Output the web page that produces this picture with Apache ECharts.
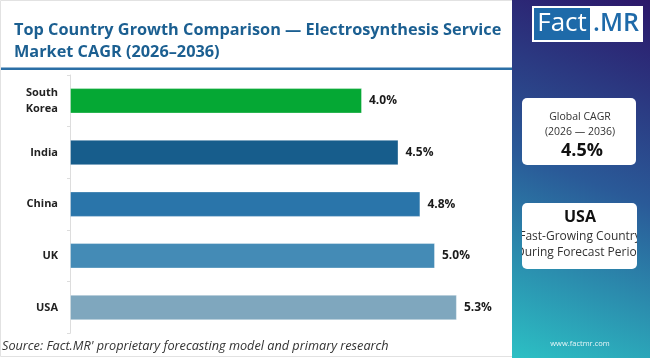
<!DOCTYPE html>
<html>
<head>
<meta charset="utf-8">
<script src="https://cdn.jsdelivr.net/npm/echarts@6/dist/echarts.min.js"></script>
<style>
html,body{margin:0;padding:0;background:#fff;}
#chart{width:650px;height:358px;}
</style>
</head>
<body>
<div id="chart"></div>
<script>
const categories = ['South\nKorea', 'India', 'China', 'UK', 'USA'];
const values = [4.0, 4.5, 4.8, 5.0, 5.3];
const barColors = ['#05a834', '#175d8c', '#2a75aa', '#448bb6', '#7fa7be'];
const titleText = 'Top Country Growth Comparison \u2014 Electrosynthesis Service\nMarket CAGR (2026\u20132036)';
const sourceText = "Source: Fact.MR' proprietary forecasting model and primary research";
const globalCagr = '4.5%';
const fastestCountry = 'USA';

const chart = echarts.init(document.getElementById('chart'), null, {renderer: 'canvas'});
const FONT = '"Open Sans", "Noto Sans", sans-serif';

chart.setOption({
  backgroundColor: '#ffffff',
  animation: false,
  title: {
    text: titleText,
    left: 9, top: 14,
    textStyle: {fontFamily: FONT, fontWeight: 700, fontSize: 16.3, color: '#1b5f91', lineHeight: 22}
  },
  grid: {left: 70, right: 142, top: 75, bottom: 24.7, containLabel: false},
  xAxis: {
    type: 'value', min: 0, max: 6, show: false
  },
  yAxis: {
    type: 'category', inverse: true, data: categories,
    axisLine: {show: true, lineStyle: {color: '#dddddd', width: 1}},
    axisTick: {show: true, length: 3, lineStyle: {color: '#dddddd'}},
    axisLabel: {margin: 12, fontFamily: FONT, fontWeight: 700, fontSize: 11, color: '#222', lineHeight: 16, align: 'right'}
  },
  series: [{
    type: 'bar',
    data: values.map((v, i) => ({value: v, itemStyle: {color: barColors[i]}})),
    barWidth: 25.5,
    itemStyle: {borderColor: 'rgba(255,255,255,0.35)', borderWidth: 1},
    label: {
      show: true, position: 'right', distance: 7,
      formatter: p => p.value.toFixed(1) + '%',
      fontFamily: FONT, fontWeight: 700, fontSize: 12, color: '#1a1a1a'
    }
  }],
  graphic: [
    {type: 'rect', shape: {x: 0, y: 67.5, width: 512, height: 2.5}, style: {fill: '#2b6fa6'}, silent: true},
    {type: 'rect', shape: {x: 0.5, y: 0.5, width: 649, height: 356}, style: {fill: 'none', stroke: '#e2e2e2', lineWidth: 1}, silent: true},
    {
      type: 'rect', shape: {x: 512, y: 0, width: 138, height: 358},
      style: {fill: new echarts.graphic.LinearGradient(0, 1, 1, 0, [
        {offset: 0, color: '#2cc0c4'},
        {offset: 0.5, color: '#2a5a98'},
        {offset: 1, color: '#2c176a'}
      ])}, silent: true
    },
    {type: 'rect', shape: {x: 532, y: 6, width: 111, height: 36}, style: {fill: '#ffffff'}, silent: true},
    {type: 'rect', shape: {x: 534, y: 8, width: 56, height: 32}, style: {fill: '#1e6aa9'}, silent: true},
    {type: 'text', style: {text: 'Fact', x: 562, y: 24, align: 'center', verticalAlign: 'middle', fontFamily: FONT, fontSize: 26, fontWeight: 400, fill: '#ffffff'}, silent: true},
    {type: 'text', style: {text: '.MR', x: 616, y: 24, align: 'center', verticalAlign: 'middle', fontFamily: FONT, fontSize: 25, fontWeight: 600, fill: '#1e6aa9'}, silent: true},
    {type: 'rect', shape: {x: 522, y: 98, width: 114, height: 67, r: 5}, style: {fill: '#ffffff'}, silent: true},
    {type: 'text', style: {text: 'Global CAGR', x: 580, y: 117, align: 'center', verticalAlign: 'middle', fontFamily: FONT, fontSize: 10.5, fill: '#333'}, silent: true},
    {type: 'text', style: {text: '(2026 \u2014 2036)', x: 580, y: 132, align: 'center', verticalAlign: 'middle', fontFamily: FONT, fontSize: 10.5, fill: '#333'}, silent: true},
    {type: 'text', style: {text: globalCagr, x: 582, y: 151, align: 'center', verticalAlign: 'middle', fontFamily: FONT, fontSize: 18, fontWeight: 700, fill: '#111'}, silent: true},
    {
      type: 'group', x: 522, y: 203,
      children: [
        {type: 'rect', shape: {x: 0, y: 0, width: 115, height: 66, r: 5}, style: {fill: '#ffffff'}},
        {type: 'group', clipPath: {type: 'rect', shape: {x: 0, y: 0, width: 115, height: 66}},
          children: [
            {type: 'text', style: {text: fastestCountry, x: 58, y: 14, align: 'center', verticalAlign: 'middle', fontFamily: FONT, fontSize: 16, fontWeight: 700, fill: '#111'}},
            {type: 'text', style: {text: 'Fast-Growing Country', x: 58, y: 34, align: 'center', verticalAlign: 'middle', fontFamily: FONT, fontSize: 12, fill: '#333'}},
            {type: 'text', style: {text: 'During Forecast Period', x: 58, y: 50, align: 'center', verticalAlign: 'middle', fontFamily: FONT, fontSize: 12, fill: '#333'}}
          ]}
      ], silent: true
    },
    {type: 'text', style: {text: 'www.factmr.com', x: 580, y: 344, align: 'center', verticalAlign: 'middle', fontFamily: FONT, fontSize: 7.5, fill: '#e8f6f8'}, silent: true},
    {type: 'text', style: {text: sourceText, x: 2, y: 346, align: 'left', verticalAlign: 'middle', fontFamily: FONT, fontSize: 12.7, fontStyle: 'italic', fill: '#333'}, silent: true}
  ]
});
</script>
</body>
</html>
